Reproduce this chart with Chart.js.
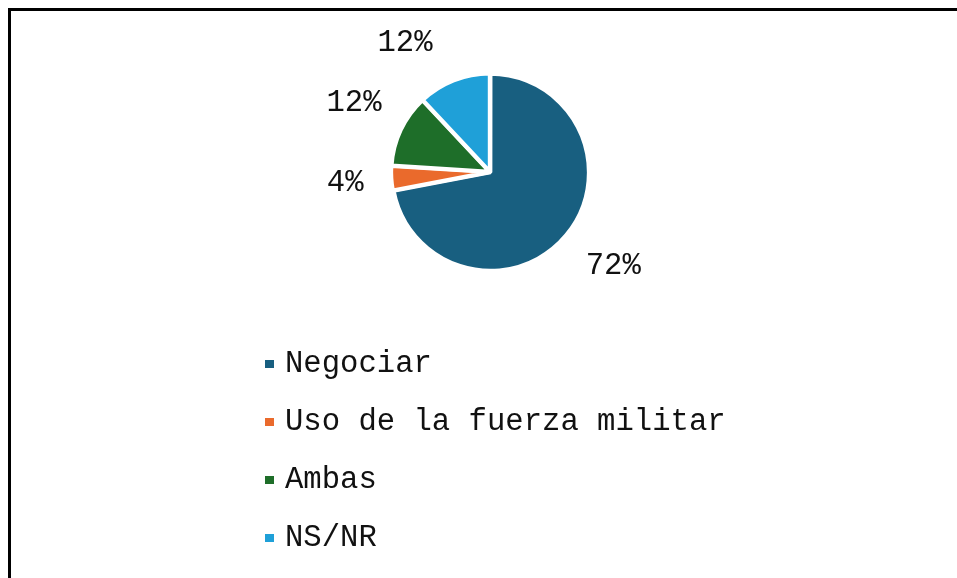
<!DOCTYPE html>
<html>
<head>
<meta charset="utf-8">
<script src="https://cdn.jsdelivr.net/npm/chart.js@4/dist/chart.umd.min.js"></script>
<style>
    body { margin: 0; background: #fff; overflow: hidden; }
    #wrap { position: relative; width: 957px; height: 578px; overflow: hidden; }
    #frame { position: absolute; left: 8px; top: 8px; width: 1200px; height: 800px;
             border-left: 3px solid #000; border-top: 3px solid #000; }
    #grafico { position: absolute; left: 0; top: 0; }
    #leyenda { position: absolute; left: 265px; top: 335px; margin: 0; padding: 0; list-style: none;
               font: 30.6px "Liberation Mono", "DejaVu Sans Mono", monospace; color: #111; }
    #leyenda li { display: flex; align-items: center; height: 58px; white-space: pre; }
    #leyenda .caja { width: 9px; height: 8px; margin-right: 11px; }
</style>
</head>
<body>
<div id="wrap">
    <div id="frame"></div>
    <canvas id="grafico" width="957" height="578"></canvas>
    <ul id="leyenda"></ul>
</div>
<script>
const categorias = ['Negociar', 'Uso de la fuerza militar', 'Ambas', 'NS/NR'];
const porcentajes = [72, 4, 12, 12];
const colores = ['#185f80', '#ea6a2c', '#1e6e29', '#1fa0d8'];

const clamp1 = v => Math.max(-1, Math.min(1, v));

// --- etiquetas de porcentaje fuera de cada sector ---
const etiquetas = {
    id: 'etiquetas',
    afterDatasetsDraw(chart) {
        const ctx = chart.ctx;
        const meta = chart.getDatasetMeta(0);
        ctx.save();
        ctx.font = '30.6px "Liberation Mono", monospace';
        ctx.fillStyle = '#111';
        ctx.textAlign = 'center';
        ctx.textBaseline = 'middle';
        meta.data.forEach((arc, i) => {
            const p = arc.getProps(['x', 'y', 'startAngle', 'endAngle', 'outerRadius'], true);
            const mid = (p.startAngle + p.endAngle) / 2;
            const dx = Math.cos(mid), dy = Math.sin(mid);
            const tx = p.x + dx * (p.outerRadius - 3) + clamp1(dx * 3) * 50;
            const ty = p.y + dy * (p.outerRadius + 20) + clamp1(dy * 3) * 19;
            ctx.fillText(porcentajes[i] + '%', tx, ty);
        });
        ctx.restore();
    }
};

// --- leyenda en lista vertical ---
const leyendaHtml = {
    id: 'leyendaHtml',
    afterUpdate(chart) {
        const ul = document.getElementById('leyenda');
        ul.innerHTML = '';
        const items = chart.options.plugins.legend.labels.generateLabels(chart);
        items.forEach(item => {
            const li = document.createElement('li');
            const caja = document.createElement('span');
            caja.className = 'caja';
            caja.style.background = item.fillStyle;
            li.appendChild(caja);
            li.appendChild(document.createTextNode(item.text));
            ul.appendChild(li);
        });
    }
};

new Chart(document.getElementById('grafico'), {
    type: 'pie',
    data: {
        labels: categorias,
        datasets: [{
            data: porcentajes,
            backgroundColor: colores,
            borderColor: '#fff',
            borderWidth: 4,
            offset: 2
        }]
    },
    options: {
        responsive: false,
        animation: false,
        radius: 98,
        layout: { padding: { top: 62, bottom: 296, left: 380, right: 357 } },
        plugins: {
            legend: { display: false },
            tooltip: { enabled: false }
        }
    },
    plugins: [etiquetas, leyendaHtml]
});
</script>
</body>
</html>
